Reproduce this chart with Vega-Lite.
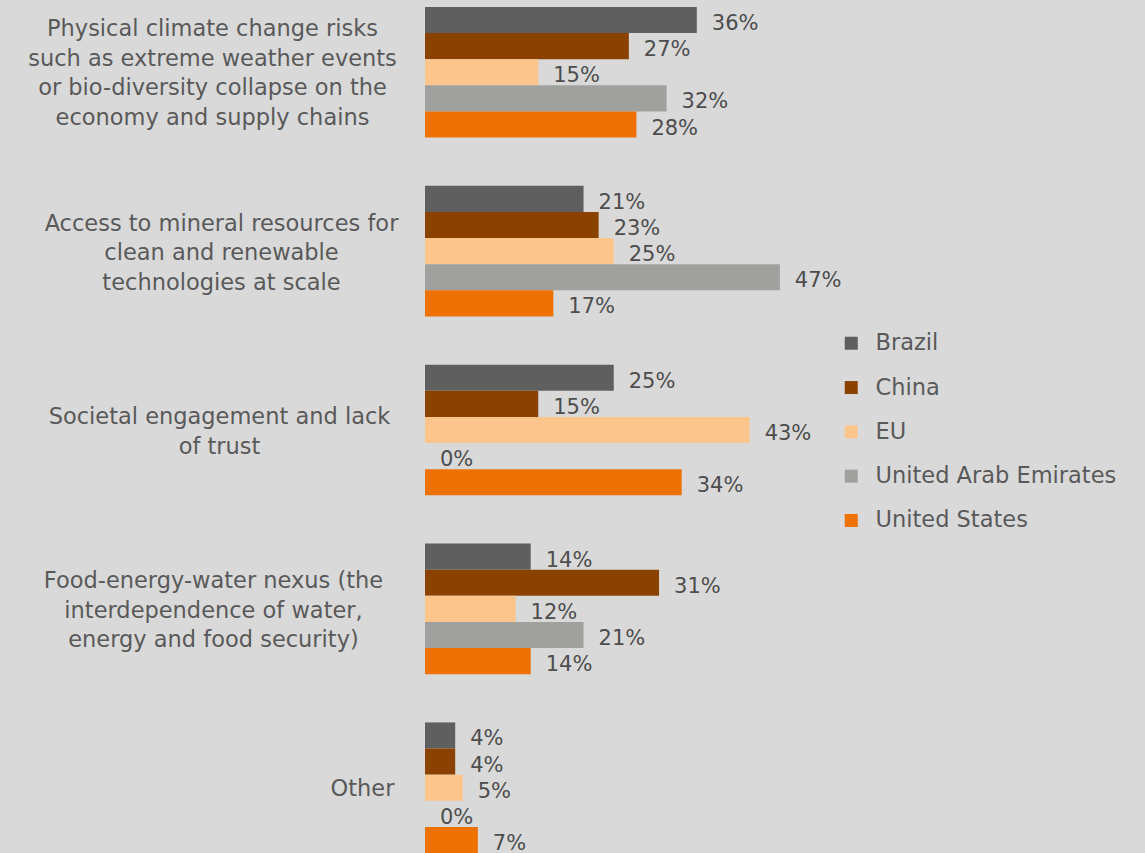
{
  "$schema": "https://vega.github.io/schema/vega-lite/v6.json",
  "width": 377.5,
  "height": 853,
  "autosize": {"type": "none"},
  "padding": {"left": 425, "top": 0, "right": 342.5, "bottom": 0},
  "background": "#d9d9d9",
  "config": {
    "view": {"stroke": null},
    "font": "DejaVu Sans",
    "text": {"font": "DejaVu Sans"}
  },
  "data": {
    "values": [
      {"risk": "Physical climate change risks|such as extreme weather events|or bio-diversity collapse on the|economy and supply chains", "country": "Brazil", "share": 0.36},
      {"risk": "Physical climate change risks|such as extreme weather events|or bio-diversity collapse on the|economy and supply chains", "country": "China", "share": 0.27},
      {"risk": "Physical climate change risks|such as extreme weather events|or bio-diversity collapse on the|economy and supply chains", "country": "EU", "share": 0.15},
      {"risk": "Physical climate change risks|such as extreme weather events|or bio-diversity collapse on the|economy and supply chains", "country": "United Arab Emirates", "share": 0.32},
      {"risk": "Physical climate change risks|such as extreme weather events|or bio-diversity collapse on the|economy and supply chains", "country": "United States", "share": 0.28},
      {"risk": "Access to mineral resources for|clean and renewable|technologies at scale", "country": "Brazil", "share": 0.21},
      {"risk": "Access to mineral resources for|clean and renewable|technologies at scale", "country": "China", "share": 0.23},
      {"risk": "Access to mineral resources for|clean and renewable|technologies at scale", "country": "EU", "share": 0.25},
      {"risk": "Access to mineral resources for|clean and renewable|technologies at scale", "country": "United Arab Emirates", "share": 0.47},
      {"risk": "Access to mineral resources for|clean and renewable|technologies at scale", "country": "United States", "share": 0.17},
      {"risk": "Societal engagement and lack|of trust", "country": "Brazil", "share": 0.25},
      {"risk": "Societal engagement and lack|of trust", "country": "China", "share": 0.15},
      {"risk": "Societal engagement and lack|of trust", "country": "EU", "share": 0.43},
      {"risk": "Societal engagement and lack|of trust", "country": "United Arab Emirates", "share": 0.0},
      {"risk": "Societal engagement and lack|of trust", "country": "United States", "share": 0.34},
      {"risk": "Food-energy-water nexus (the|interdependence of water,|energy and food security)", "country": "Brazil", "share": 0.14},
      {"risk": "Food-energy-water nexus (the|interdependence of water,|energy and food security)", "country": "China", "share": 0.31},
      {"risk": "Food-energy-water nexus (the|interdependence of water,|energy and food security)", "country": "EU", "share": 0.12},
      {"risk": "Food-energy-water nexus (the|interdependence of water,|energy and food security)", "country": "United Arab Emirates", "share": 0.21},
      {"risk": "Food-energy-water nexus (the|interdependence of water,|energy and food security)", "country": "United States", "share": 0.14},
      {"risk": "Other", "country": "Brazil", "share": 0.04},
      {"risk": "Other", "country": "China", "share": 0.04},
      {"risk": "Other", "country": "EU", "share": 0.05},
      {"risk": "Other", "country": "United Arab Emirates", "share": 0.0},
      {"risk": "Other", "country": "United States", "share": 0.07}
    ]
  },
  "encoding": {
    "y": {
      "field": "risk",
      "type": "nominal",
      "sort": null,
      "scale": {"paddingInner": 0.27, "paddingOuter": 0.0196, "align": 1},
      "axis": {
        "title": null,
        "domain": false,
        "ticks": false,
        "labelExpr": "split(datum.label, '|')",
        "labelAlign": "center",
        "labelBaseline": "middle",
        "labelPadding": {
          "condition": [
            {"test": "datum.value == 'Other'", "value": 63},
            {"test": "indexof(datum.value, 'Physical') == 0", "value": 213},
            {"test": "indexof(datum.value, 'Access') == 0", "value": 204},
            {"test": "indexof(datum.value, 'Societal') == 0", "value": 206}
          ],
          "value": 212
        },
        "labelOffset": {
          "condition": [
            {"test": "datum.value == 'Other'", "value": 1.5},
            {"test": "indexof(datum.value, 'Physical') == 0", "value": -43.25},
            {"test": "indexof(datum.value, 'Societal') == 0", "value": -13}
          ],
          "value": -27.5
        },
        "labelFontSize": 22.5,
        "labelLineHeight": 29.5,
        "labelColor": "#595959",
        "labelLimit": 0,
        "labelFont": "DejaVu Sans"
      }
    },
    "yOffset": {
      "field": "country",
      "type": "nominal",
      "sort": ["Brazil", "China", "EU", "United Arab Emirates", "United States"],
      "scale": {"paddingInner": 0, "paddingOuter": 0}
    },
    "x": {
      "field": "share",
      "type": "quantitative",
      "scale": {"domain": [0, 0.5], "nice": false},
      "axis": null
    }
  },
  "layer": [
    {
      "mark": {"type": "bar"},
      "encoding": {
        "color": {
          "field": "country",
          "type": "nominal",
          "sort": ["Brazil", "China", "EU", "United Arab Emirates", "United States"],
          "scale": {
            "domain": ["Brazil", "China", "EU", "United Arab Emirates", "United States"],
            "range": ["#5f5f5f", "#8b4200", "#fcc58c", "#a0a09e", "#ee7103"]
          },
          "legend": {
            "title": null,
            "orient": "none",
            "legendX": 415,
            "legendY": 332,
            "padding": 0,
            "symbolType": "square",
            "symbolSize": 169,
            "symbolStrokeWidth": 0,
            "labelFontSize": 22.5,
            "labelColor": "#595959",
            "labelFont": "DejaVu Sans",
            "labelOffset": 13,
            "rowPadding": 21.3,
            "labelLimit": 0
          }
        }
      }
    },
    {
      "mark": {"type": "text", "align": "left", "baseline": "middle", "dx": 15, "dy": 4, "fontSize": 21, "color": "#4d4d4d"},
      "encoding": {
        "text": {"field": "share", "type": "quantitative", "format": ".0%"}
      }
    }
  ]
}
